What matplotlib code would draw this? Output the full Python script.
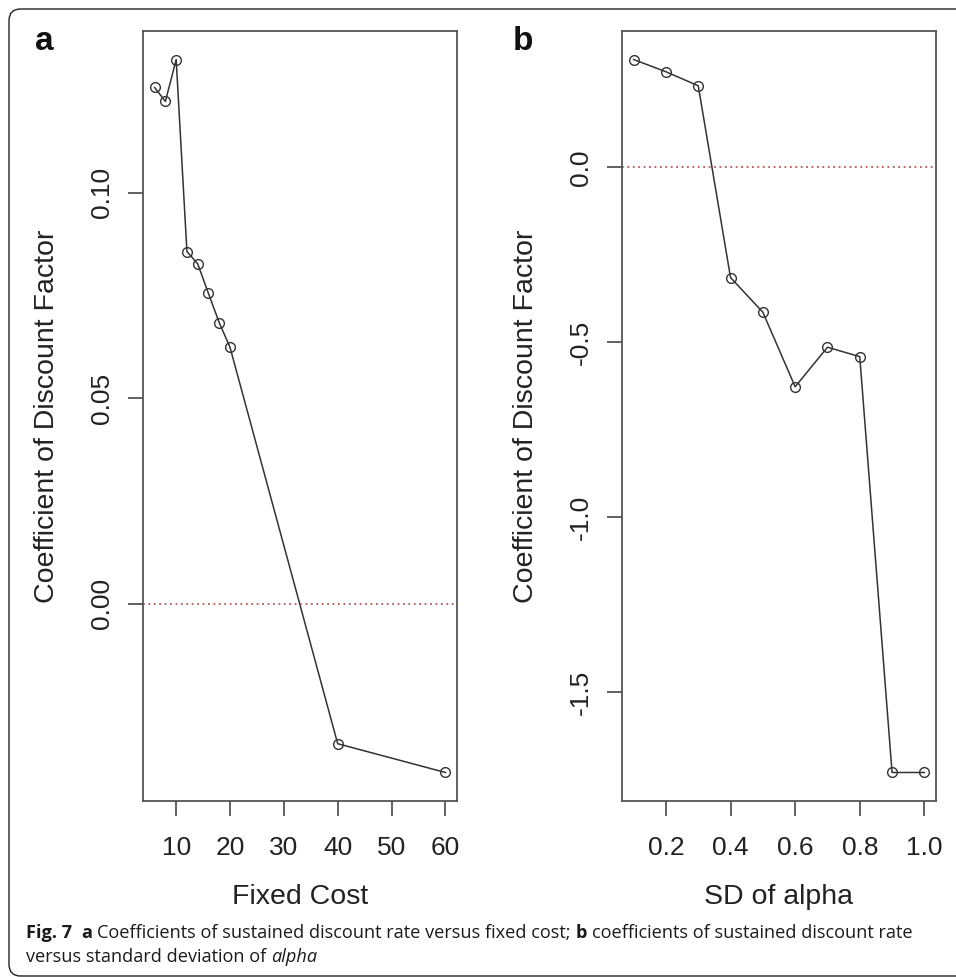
import matplotlib
matplotlib.use("Agg")
import matplotlib.pyplot as plt
from matplotlib.patches import FancyBboxPatch

plt.rcParams['font.family'] = ['Liberation Sans', 'DejaVu Sans']
plt.rcParams['axes.unicode_minus'] = False

# datos
fixed_cost = [6, 8, 10, 12, 14, 16, 18, 20, 40, 60]
coef_a = [0.1256, 0.1222, 0.1324, 0.0857, 0.0827, 0.0755, 0.0684, 0.0624, -0.0340, -0.0410]

sd_alpha = [0.1, 0.2, 0.3, 0.4, 0.5, 0.6, 0.7, 0.8, 0.9, 1.0]
coef_b = [0.308, 0.273, 0.233, -0.315, -0.414, -0.627, -0.514, -0.541, -1.729, -1.729]

xticks_a = [10, 20, 30, 40, 50, 60]
yticks_a = [0.00, 0.05, 0.10]
ytlabels_a = ['0.00', '0.05', '0.10']
xticks_b = [0.2, 0.4, 0.6, 0.8, 1.0]
xtlabels_b = ['0.2', '0.4', '0.6', '0.8', '1.0']
yticks_b = [-1.5, -1.0, -0.5, 0.0]
ytlabels_b = ['-1.5', '-1.0', '-0.5', '0.0']

W, H = 956, 977
fig = plt.figure(figsize=(W / 100, H / 100), dpi=100)

# marco redondeado del articulo
frame = FancyBboxPatch((9 / W, 1 - 976 / H), 1.2, (976 - 9) / H,
                       boxstyle="round,pad=0,rounding_size=0.012",
                       transform=fig.transFigure, fill=False, lw=1.0, ec='#222')
fig.patches.append(frame)

gris = '#555555'
linea = '#333333'


def panel(left, x, y, xt, xtl, yt, ytl, xlab, letra):
    ax = fig.add_axes([left / W, 1 - 801 / H, 314 / W, (801 - 31) / H])
    ax.plot(x, y, color=linea, lw=1.1, marker='o', ms=7, mfc='none', mec=linea, mew=1.0)
    ax.margins(x=0.04, y=0.04)
    ax.axhline(0, color='#b85555', lw=1.3, ls=(0, (1, 2)))
    for s in ax.spines.values():
        s.set_color(gris)
        s.set_linewidth(1.3)
    ax.set_xticks(xt)
    ax.set_xticklabels(xtl)
    ax.set_yticks(yt)
    ax.set_yticklabels(ytl, rotation=90, va='center')
    ax.tick_params(direction='out', length=11, width=1.3, color=gris,
                   labelsize=19, labelcolor='#222')
    ax.tick_params(axis='x', pad=14)
    ax.tick_params(axis='y', pad=10)
    ax.set_xlabel(xlab, fontsize=20.5, color='#222', va='center')
    ax.xaxis.set_label_coords(0.5, -(897 - 801) / 770)
    ax.set_ylabel('Coefficient of Discount Factor', fontsize=20.5, color='#222', va='center')
    ax.yaxis.set_label_coords(-96 / 314, 0.5)
    fig.text((left - 99) / W, 1 - 41 / H, letra, fontsize=24, fontweight='bold',
             ha='center', va='center', color='#111')
    return ax


ax1 = panel(143, fixed_cost, coef_a, xticks_a, [str(v) for v in xticks_a],
            yticks_a, ytlabels_a, 'Fixed Cost', 'a')
ax2 = panel(622, sd_alpha, coef_b, xticks_b, xtlabels_b,
            yticks_b, ytlabels_b, 'SD of alpha', 'b')

# pie de figura con partes en negrita y cursiva
rend = fig.canvas.get_renderer()
cap_font = ['Open Sans', 'DejaVu Sans']
cap_size = 13.1


def ancho(txt, **kw):
    t = fig.text(0, 0, txt, fontsize=cap_size, family=cap_font, **kw)
    w = t.get_window_extent(rend).width
    t.remove()
    return w


esp = ancho('x x') - ancho('xx')


def linea_texto(py, partes):
    px = 26
    for txt, peso, estilo, sep in partes:
        t = fig.text(px / W, 1 - py / H, txt, fontsize=cap_size, family=cap_font,
                     fontweight=peso, fontstyle=estilo, va='baseline', ha='left', color='#1a1a1a')
        px += t.get_window_extent(rend).width + sep * esp


linea_texto(938, [('Fig. 7', 'bold', 'normal', 2),
                  ('a', 'bold', 'normal', 1),
                  ('Coefficients of sustained discount rate versus fixed cost;', 'normal', 'normal', 1),
                  ('b', 'bold', 'normal', 1),
                  ('coefficients of sustained discount rate', 'normal', 'normal', 0)])
linea_texto(962, [('versus standard deviation of', 'normal', 'normal', 1),
                  ('alpha', 'normal', 'italic', 0)])

fig.savefig('out.png', dpi=100)
